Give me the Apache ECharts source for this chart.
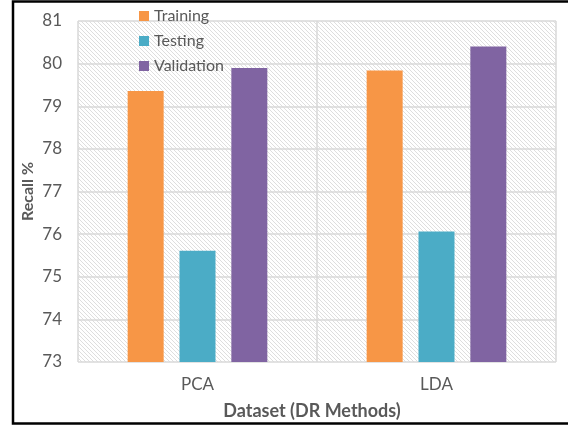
<!DOCTYPE html>
<html>
<head>
<meta charset="utf-8">
<script src="https://cdn.jsdelivr.net/npm/echarts@6/dist/echarts.min.js"></script>
<style>
  html, body { margin: 0; padding: 0; background: #fff; }
  #chart { width: 568px; height: 425px; }
</style>
</head>
<body>
<div id="chart"></div>
<script>
// Recall (%) of each split per dimensionality-reduction method
const categories = ['PCA', 'LDA'];
const seriesNames = ['Training', 'Testing', 'Validation'];
const training = [79.36, 79.84];
const testing = [75.61, 76.06];
const validation = [79.90, 80.40];
const yTicks = { min: 73, max: 81, interval: 1 };

const colors = ['#F79646', '#4BACC6', '#8064A2'];

// Light diagonal hatch used as plot-area fill
function hatchTile() {
  const n = 4;
  const c = document.createElement('canvas');
  c.width = n; c.height = n;
  const ctx = c.getContext('2d');
  const img = ctx.createImageData(n, n);
  for (let y = 0; y < n; y++) {
    for (let x = 0; x < n; x++) {
      const i = (y * n + x) * 4;
      const on = x === y;
      const v = on ? 222 : 255;
      img.data[i] = v; img.data[i + 1] = v; img.data[i + 2] = v; img.data[i + 3] = 255;
    }
  }
  ctx.putImageData(img, 0, 0);
  return c;
}

const chart = echarts.init(document.getElementById('chart'), null, { renderer: 'canvas' });
const font = 'Lato, "Open Sans", sans-serif';
const grey = '#595959';

chart.setOption({
  animation: false,
  backgroundColor: '#fff',
  textStyle: { fontFamily: font },
  graphic: [{
    type: 'rect',
    shape: { x: 13, y: 1.5, width: 600, height: 422 },
    style: { fill: 'none', stroke: '#000', lineWidth: 2.5 },
    z: 100,
    silent: true
  }],
  grid: {
    left: 78, right: 12, top: 21, bottom: 63,
    show: true,
    borderWidth: 0,
    backgroundColor: { image: hatchTile(), repeat: 'repeat' }
  },
  legend: {
    orient: 'vertical',
    left: 134, top: 3,
    itemWidth: 10, itemHeight: 10,
    itemGap: 9,
    itemTextGap: 5,
    icon: 'rect',
    textStyle: { color: grey, fontSize: 16, fontFamily: font },
    data: seriesNames
  },
  xAxis: {
    type: 'category',
    data: categories,
    axisLine: { show: false },
    axisTick: { show: false },
    axisLabel: { color: grey, fontSize: 17, margin: 14, fontFamily: font },
    splitLine: { show: true, lineStyle: { color: '#d9d9d9', width: 1.5 } },
    name: 'Dataset (DR Methods)',
    nameLocation: 'middle',
    nameGap: 40,
    nameMoveOverlap: false,
    nameTextStyle: { color: grey, fontSize: 18, fontWeight: 'bold', fontFamily: font, padding: [0, 10, 0, 0] }
  },
  yAxis: {
    type: 'value',
    min: yTicks.min, max: yTicks.max, interval: yTicks.interval,
    axisLine: { show: false },
    axisTick: { show: false },
    axisLabel: { color: grey, fontSize: 17, margin: 16, fontFamily: font },
    splitLine: { show: true, lineStyle: { color: '#d9d9d9', width: 1.5 } },
    name: 'Recall %',
    nameLocation: 'middle',
    nameGap: 42,
    nameMoveOverlap: false,
    nameTextStyle: { color: grey, fontSize: 16, fontWeight: 'bold', fontFamily: font }
  },
  series: [
    { name: seriesNames[0], type: 'bar', data: training, barWidth: 36, barGap: '44%', itemStyle: { color: colors[0] } },
    { name: seriesNames[1], type: 'bar', data: testing, barWidth: 36, barGap: '44%', itemStyle: { color: colors[1] } },
    { name: seriesNames[2], type: 'bar', data: validation, barWidth: 36, barGap: '44%', itemStyle: { color: colors[2] } }
  ]
});
</script>
</body>
</html>
